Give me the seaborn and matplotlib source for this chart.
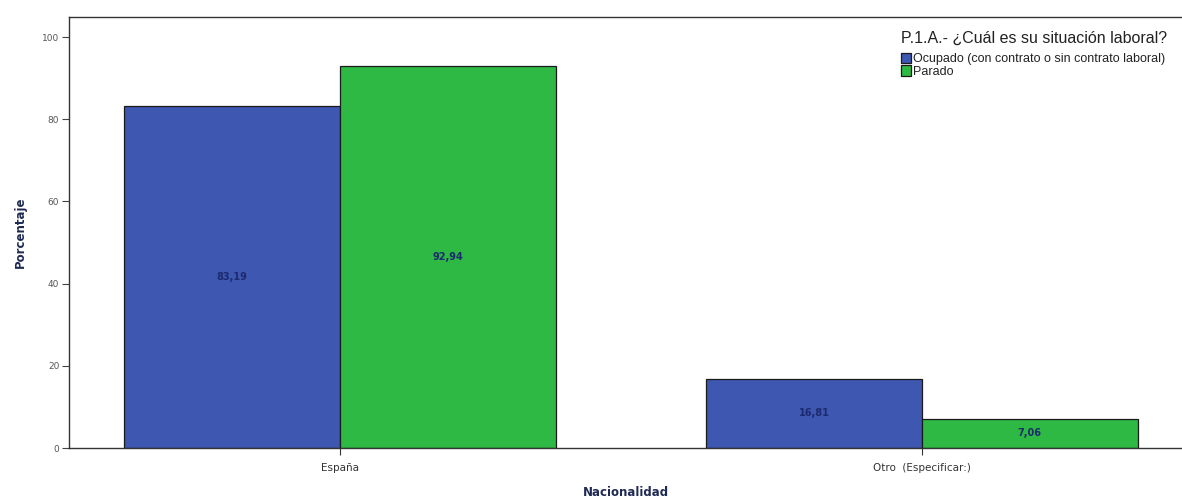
import matplotlib
matplotlib.use("Agg")
import matplotlib.pyplot as plt
import seaborn as sns
import pandas as pd

categories = ["España", "Otro  (Especificar:)"]
series_names = ["Ocupado (con contrato o sin contrato laboral)", "Parado"]
ocupado = [83.19, 16.81]
parado = [92.94, 7.06]
y_ticks = [0, 20, 40, 60, 80, 100]

df = pd.DataFrame({
    "Nacionalidad": categories * 2,
    "Situacion": [series_names[0]] * 2 + [series_names[1]] * 2,
    "Porcentaje": ocupado + parado,
})

sns.set_theme(style="white")
plt.rcParams["font.family"] = ["DejaVu Sans"]

fig = plt.figure(figsize=(11.82, 5.0), dpi=100)
ax = fig.add_axes([69 / 1182, 52 / 500, 1113 / 1182, 431 / 500])

colors = ["#3E57B0", "#2DB944"]
sns.barplot(data=df, x="Nacionalidad", y="Porcentaje", hue="Situacion",
            hue_order=series_names, order=categories, palette=colors,
            saturation=1, width=0.742, edgecolor="#1a1a1a", linewidth=0.9,
            errorbar=None, ax=ax)

for cont in ax.containers:
    labels = [f"{v:.2f}".replace(".", ",") for v in cont.datavalues]
    ax.bar_label(cont, labels=labels, label_type="center", fontsize=7,
                 color="#1c2a6e", fontweight="bold")

ax.set_xlim(-0.466, 1.447)
ax.set_ylim(0, 104.9)
ax.set_yticks(y_ticks)
ax.set_yticklabels([str(t) for t in y_ticks], fontsize=6.5, color="#444444")
ax.tick_params(axis="x", labelsize=7.5, colors="#333333", length=5, width=0.8, direction="out", bottom=True, pad=6)
ax.tick_params(axis="y", length=5, width=0.8, direction="out", left=True, colors="#444444", labelcolor="#555555", pad=2)
ax.tick_params(axis="x", labelcolor="#333333")

for s in ["left", "bottom", "top"]:
    ax.spines[s].set_visible(True)
    ax.spines[s].set_color("#333333")
    ax.spines[s].set_linewidth(1.0)
ax.spines["right"].set_visible(False)

ax.set_xlabel("Nacionalidad", fontsize=8.5, fontweight="bold", color="#1f2a55", labelpad=9)
ax.set_ylabel("Porcentaje", fontsize=8.5, fontweight="bold", color="#1f2a55", labelpad=11)

handles, labs = ax.get_legend_handles_labels()
leg = ax.legend(handles, labs, title="P.1.A.- ¿Cuál es su situación laboral?",
                loc="upper right", bbox_to_anchor=(0.995, 0.99), frameon=False,
                handlelength=0.8, handleheight=0.9,
                handletextpad=0.15, labelspacing=0.0, alignment="left", borderaxespad=0.35,
                prop={"family": "Liberation Sans", "size": 9})
leg.get_title().set_fontfamily("Liberation Sans")
leg.get_title().set_fontsize(11.5)
leg.get_title().set_color("#222222")
leg._legend_box.sep = 5
for t in leg.get_texts():
    t.set_color("#222222")

fig.savefig("out.png", dpi=100)
